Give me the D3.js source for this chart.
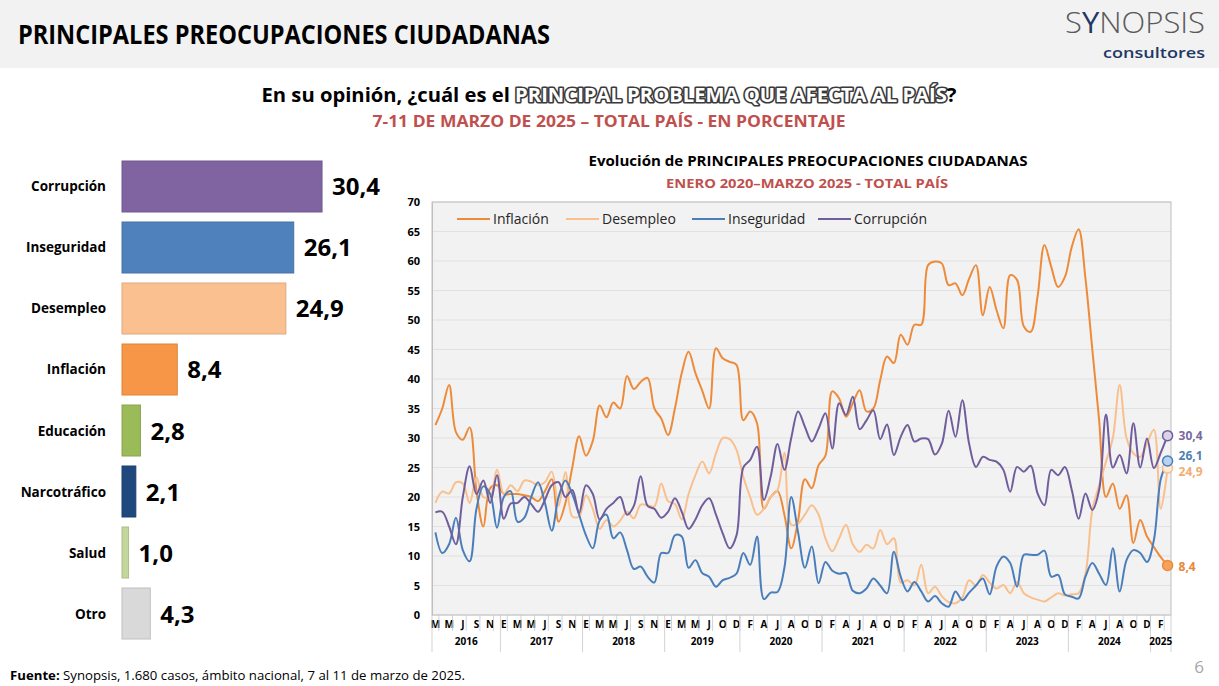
<!DOCTYPE html>
<html><head><meta charset="utf-8">
<script src="https://cdn.jsdelivr.net/npm/d3@7"></script>
<style>
body{margin:0;background:#fff}
svg{display:block}
text{font-family:"Open Sans","Noto Sans",sans-serif}
</style>
</head><body>
<svg id="c" width="1219" height="686"></svg>
<script>
// ---------- DATA ----------
const barCategories = ["Corrupción","Inseguridad","Desempleo","Inflación","Educación","Narcotráfico","Salud","Otro"];
const barValues = [30.4, 26.1, 24.9, 8.4, 2.8, 2.1, 1.0, 4.3];
const barColors = ["#8064A2","#4F81BD","#FAC090","#F79646","#9BBB59","#1F497D","#C3D69B","#D9D9D9"];

const seriesNames = ["Inflación","Desempleo","Inseguridad","Corrupción"];
const seriesColors = ["#ED8B3B","#F9C08E","#4A7EBB","#705E9C"];
const markerFills = ["#F5A25A","#FDEBD9","#B9D3EE","#D9D2E9"];
const endLabelColors = ["#E8883A","#F2AE70","#4F81AE","#7A6A9E"];

const inflacion = [32.2,35,39,31,29.7,31.8,21,15,21.5,22,
 20.5,20.5,20.5,20.3,20,19.3,21,23,15.8,19,
 25,30.3,27,29.5,35.5,33.5,36,35,40.5,38.3,
 39.5,40.2,35,33.3,30.5,35,41,44.6,41,38,
 35,45.2,43.5,42.9,42.4,33,34.5,32.5,18,20,
 21,17,11.3,16,23,21.5,25.4,27,37.9,36.7,
 33.6,35.9,38.1,34.5,35,39.8,43.8,42.7,47.5,45.8,
 49.2,49.2,59.3,59.9,59.6,55.9,56.2,54.2,57,59.3,
 50.8,55.6,51.7,48.6,57.6,56.8,48.9,48,54,62.7,
 59,55.6,57.3,62.4,65.4,57,45,33,20,22.3,
 18,20.3,12.2,16.1,13.3,11.5,9.8,8.4];
const desempleo = [19,20.9,20.6,22.5,22.3,19,23.3,20,20,24.6,
 20.5,22,21,22.8,22.6,22,22.5,24.3,18.5,24.2,
 16.7,16.7,20.3,18,14.6,16.1,15,16,17.5,16.4,
 18.7,18.6,18.4,22.3,19.3,18.8,16.2,20.5,23.7,26,
 24,27.4,30,29.8,28,23.4,20,17,18,20,
 21.2,27.5,15.3,15.5,17,18.6,17,13,10.8,13,
 15.3,12,10.7,11.9,11.3,14.4,12,13,5.5,5.9,
 5,8.5,3.7,4.8,3.2,2.2,2,3,5.9,5,
 6.8,5.5,4.5,5.1,3.7,5.6,3.7,3,2.6,2.3,
 3,3.7,3.3,3.5,3.7,7,17.8,22,26,30,
 39,30,27.4,26.8,29.1,31.4,18,24.9];
const inseguridad = [14,10.5,12,16.5,11,9.1,18,21.8,20.5,14.8,
 20,21,15.8,16.5,20,22.5,19,14.3,20,22.8,
 20.5,17,13.5,11.3,16,17,13,14,11,7.8,
 8.2,6.5,5.5,10.5,10.5,13.5,13.3,8,9.3,7.1,
 6.5,4.8,5.9,6.3,7,10.5,8.5,13.3,2.7,3.8,
 3.9,8,20,14,8,11.6,5.4,9,7.5,7,
 7.1,4.1,3.7,4.5,6.2,5,3.7,10.7,6.5,4,
 5.6,4,2.3,3.2,2,1.4,4,2.5,3.8,5,
 6.2,3.5,8.2,9.9,8.8,4.8,10.2,10.2,10.2,10.9,
 6.5,6.8,3.5,3.1,2.8,6.5,8.8,7,5.1,11.3,
 4,9.3,11,10.5,9,12.7,23,26.1];
const corrupcion = [17.4,17.5,15,12,20,25.2,20.5,22.8,19,23.7,
 16.3,18.9,19,20,18.8,17.5,19.5,22,22.5,20,
 21.2,17.3,22,20.5,16.2,18,19,20,17,18.5,
 23.5,18.5,18,16.5,17.5,19.8,17.5,14.6,16.2,18.6,
 19.8,17,13.8,11.3,13.5,25,26.3,28.5,19.5,23.5,
 29,24.6,30,34.5,31.9,29.4,31.6,34.2,28.2,35.9,
 33.9,37,31.5,33,34.7,29.8,32.3,27.1,30.2,32.2,
 29.4,29.9,29.8,27.2,29,34.6,30.2,36.4,29,25.1,
 26.8,26.3,26,24.6,20.9,25.1,24.3,25.3,20.6,18.6,
 24.6,23.7,25.1,21.2,16.3,20.6,17.8,21.2,34,25,
 27.1,24,32.5,25,29.9,24.9,27.5,30.4];

const monthLabels = [
 "M","","M","","J","","S","","N","",
 "E","","M","","M","","J","","S","","N","",
 "E","","M","","M","","J","","S","","N","",
 "E","","M","","M","","J","","O","","D",
 "","F","","A","","J","","A","","O","","D",
 "","F","","A","","J","","A","","O","","D",
 "","F","","A","","J","","A","","O","","D",
 "","F","","A","","J","","A","","O","","D",
 "","F","","A","","J","","A","","O","","D",
 "","F",""];
const yearGroups = [["2016",10],["2017",12],["2018",12],["2019",11],["2020",12],["2021",12],["2022",12],["2023",12],["2024",12],["2025",3]];
const yTicks = [0,5,10,15,20,25,30,35,40,45,50,55,60,65,70];

const allSeries = [inflacion, desempleo, inseguridad, corrupcion];

// ---------- SVG ----------
const svg = d3.select("#c");
const BOLD = 700;

// Header band
svg.append("rect").attr("x",0).attr("y",0).attr("width",1219).attr("height",68).attr("fill","#F2F2F2");
svg.append("text").attr("x",18).attr("y",44)
  .style("font-family",'"Liberation Sans Narrow","Open Sans",sans-serif')
  .attr("font-weight",BOLD).attr("font-size",26).attr("fill","#000")
  .attr("textLength",532).attr("lengthAdjust","spacingAndGlyphs")
  .text("PRINCIPALES PREOCUPACIONES CIUDADANAS");

// Logo
const logo = svg.append("text").attr("x",1065).attr("y",33)
  .attr("font-size",29).attr("font-weight",300).attr("fill","#595959")
  .attr("textLength",140).attr("lengthAdjust","spacingAndGlyphs");
logo.append("tspan").text("S");
logo.append("tspan").attr("fill","#1F3864").attr("font-weight",400).text("Y");
logo.append("tspan").text("NOPSIS");
svg.append("text").attr("x",1205).attr("y",57.5).attr("text-anchor","end")
  .attr("font-size",14.5).attr("font-weight",600).attr("fill","#1F3864")
  .attr("textLength",102).attr("lengthAdjust","spacingAndGlyphs").text("consultores");

// Subtitles
const sub = svg.append("text").attr("x",609).attr("y",102).attr("text-anchor","middle")
  .attr("font-size",19).attr("font-weight",BOLD).attr("fill","#000")
  .attr("textLength",695).attr("lengthAdjust","spacingAndGlyphs");
sub.append("tspan").text("En su opinión, ¿cuál es el ");
sub.append("tspan").attr("fill","#fff").attr("stroke","#3a3a3a").attr("stroke-width",3.2)
  .attr("paint-order","stroke").attr("stroke-linejoin","round").text("PRINCIPAL PROBLEMA QUE AFECTA AL PAÍS");
sub.append("tspan").text("?");
svg.append("text").attr("x",609).attr("y",127).attr("text-anchor","middle")
  .attr("font-size",16).attr("font-weight",BOLD).attr("fill","#C0504D")
  .attr("textLength",473).attr("lengthAdjust","spacingAndGlyphs")
  .text("7-11 DE MARZO DE 2025 – TOTAL PAÍS - EN PORCENTAJE");

// ---------- BAR CHART ----------
const yB = d3.scaleBand().domain(barCategories).range([161, 639]).paddingInner(0.164).paddingOuter(0);
const xB = d3.scaleLinear().domain([0, 35]).range([122, 122 + 35*6.58]);
const gB = svg.append("g");
gB.selectAll("rect").data(barCategories).join("rect")
  .attr("x", xB(0)).attr("y", d => yB(d))
  .attr("width", (d,i) => xB(barValues[i]) - xB(0))
  .attr("height", yB.bandwidth())
  .attr("fill", (d,i) => barColors[i])
  .attr("stroke", (d,i) => d3.color(barColors[i]).darker(0.35))
  .attr("stroke-width", 1);
gB.selectAll("text.cat").data(barCategories).join("text").attr("class","cat")
  .attr("x", 106).attr("y", d => yB(d) + yB.bandwidth()/2 + 5)
  .attr("text-anchor","end").attr("font-size",13.5).attr("font-weight",BOLD).attr("fill","#000")
  .text(d => d);
gB.selectAll("text.val").data(barCategories).join("text").attr("class","val")
  .attr("x", (d,i) => xB(barValues[i]) + 10).attr("y", d => yB(d) + yB.bandwidth()/2 + 9)
  .attr("font-size",24).attr("font-weight",BOLD).attr("fill","#000")
  .text((d,i) => d3.format(".1f")(barValues[i]).replace(".", ","));

// ---------- LINE CHART ----------
const N = inflacion.length;
const xL = d3.scaleBand().domain(d3.range(N)).range([432, 1171]).padding(0);
const cx = i => xL(i) + xL.bandwidth()/2;
const yL = d3.scaleLinear().domain([0, 70]).range([615, 202]);

svg.append("text").attr("x",808).attr("y",166).attr("text-anchor","middle")
  .attr("font-size",14).attr("font-weight",BOLD).attr("fill","#000")
  .attr("textLength",439).attr("lengthAdjust","spacingAndGlyphs")
  .text("Evolución de PRINCIPALES PREOCUPACIONES CIUDADANAS");
svg.append("text").attr("x",807).attr("y",188).attr("text-anchor","middle")
  .attr("font-size",13).attr("font-weight",BOLD).attr("fill","#C0504D")
  .attr("textLength",282).attr("lengthAdjust","spacingAndGlyphs")
  .text("ENERO 2020–MARZO 2025 - TOTAL PAÍS");

const gL = svg.append("g");
gL.append("rect").attr("x",432).attr("y",yL(70)).attr("width",1171-432).attr("height",yL(0)-yL(70))
  .attr("fill","#F2F2F2");
gL.selectAll("line.grid").data(yTicks).join("line").attr("class","grid")
  .attr("x1",432).attr("x2",1171).attr("y1",d=>yL(d)).attr("y2",d=>yL(d))
  .attr("stroke","#DCDCDC").attr("stroke-width",0.8);
gL.append("rect").attr("x",432).attr("y",yL(70)).attr("width",1171-432).attr("height",yL(0)-yL(70))
  .attr("fill","none").attr("stroke","#BFBFBF").attr("stroke-width",1);

// Y axis
const yAxis = d3.axisLeft(yL).tickValues(yTicks).tickSize(0).tickPadding(12);
const gy = gL.append("g").attr("transform","translate(432,0)").call(yAxis);
gy.select(".domain").attr("stroke","#BFBFBF");
gy.selectAll("text").attr("font-size",11).attr("font-weight",BOLD).attr("fill","#000")
  .style("font-family",'"Open Sans",sans-serif');

// X axis
const gx = gL.append("g");
const labelIdx = d3.range(N).filter(i => monthLabels[i] !== "");
gx.selectAll("text.m").data(labelIdx).join("text").attr("class","m")
  .attr("x", i => cx(i)).attr("y", 628).attr("text-anchor","middle")
  .attr("font-size",10).attr("font-weight",BOLD).attr("fill","#000")
  .text(i => monthLabels[i]);
gx.selectAll("line.t").data(d3.range(1, N, 2)).join("line").attr("class","t")
  .attr("x1", i => xL(i)).attr("x2", i => xL(i)).attr("y1", 615).attr("y2", 631)
  .attr("stroke","#C8C8C8").attr("stroke-width",0.8);
let acc = 0;
const groups = yearGroups.map(([y,n]) => { const g = {year:y, start:acc, n:n}; acc += n; return g; });
gx.selectAll("line.y").data(groups).join("line").attr("class","y")
  .attr("x1", g => xL(g.start)).attr("x2", g => xL(g.start)).attr("y1",615).attr("y2",652)
  .attr("stroke","#C8C8C8").attr("stroke-width",0.8);
gx.append("line").attr("x1",1171).attr("x2",1171).attr("y1",615).attr("y2",652)
  .attr("stroke","#C8C8C8").attr("stroke-width",0.8);
gx.selectAll("text.yr").data(groups).join("text").attr("class","yr")
  .attr("x", g => (xL(g.start) + xL(g.start + g.n - 1) + xL.bandwidth())/2).attr("y", 645)
  .attr("text-anchor","middle").attr("font-size",10).attr("font-weight",BOLD).attr("fill","#000")
  .text(g => g.year);

// Lines
const line = d3.line().x((d,i) => cx(i)).y(d => yL(d)).curve(d3.curveCatmullRom.alpha(0.5));
allSeries.forEach((s, k) => {
  gL.append("path").datum(s).attr("d", line).attr("fill","none")
    .attr("stroke", seriesColors[k]).attr("stroke-width", 2).attr("stroke-linejoin","round");
});
// End markers & labels
const labelShift = [1, 3.5, -5.5, 0];
allSeries.forEach((s, k) => {
  const last = N - 1;
  gL.append("circle").attr("cx", cx(last)).attr("cy", yL(s[last])).attr("r", 5)
    .attr("fill", markerFills[k]).attr("stroke", seriesColors[k]).attr("stroke-width", 1.5);
  gL.append("text").attr("x", cx(last) + 11).attr("y", yL(s[last]) + 4.5 + labelShift[k])
    .attr("font-size", 12).attr("font-weight", BOLD).attr("fill", endLabelColors[k])
    .text(d3.format(".1f")(s[last]).replace(".", ","));
});

// Legend
const legendX = [457, 566, 692, 818];
seriesNames.forEach((n, k) => {
  gL.append("line").attr("x1", legendX[k]).attr("x2", legendX[k] + 33).attr("y1", 219).attr("y2", 219)
    .attr("stroke", seriesColors[k]).attr("stroke-width", 2);
  gL.append("text").attr("x", legendX[k] + 36).attr("y", 224).attr("font-size", 14)
    .attr("fill", "#262626").text(n);
});

// Footer
const foot = svg.append("text").attr("x",10).attr("y",680).attr("font-size",13).attr("fill","#000")
  .attr("textLength",455).attr("lengthAdjust","spacingAndGlyphs");
foot.append("tspan").attr("font-weight",BOLD).text("Fuente:");
foot.append("tspan").text(" Synopsis, 1.680 casos, ámbito nacional, 7 al 11 de marzo de 2025.");
svg.append("text").attr("x",1204).attr("y",673).attr("text-anchor","end").attr("font-size",17)
  .attr("fill","#A6A6A6").text("6");
</script>
</body></html>
